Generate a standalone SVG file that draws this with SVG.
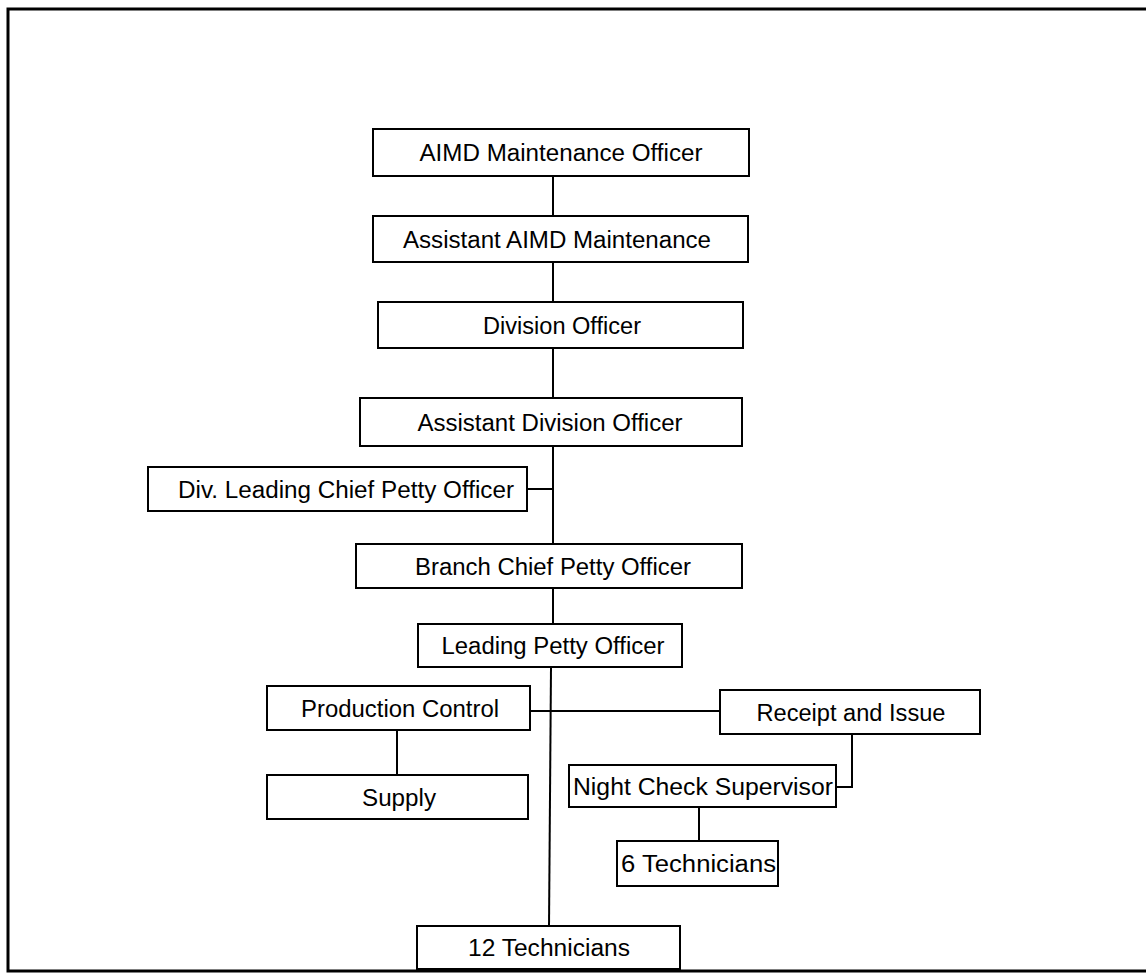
<svg xmlns="http://www.w3.org/2000/svg" width="1146" height="974" viewBox="0 0 1146 974">
<style>
.box{fill:#fff;stroke:#000;stroke-width:2}
.lbl{font-family:"Liberation Sans",Arial,sans-serif;font-size:23px;fill:#000}
.c{text-anchor:middle}
.conn line,.conn polyline{stroke:#000;stroke-width:2;fill:none}
</style>
<rect width="1146" height="974" fill="#fff"/>
<path d="M1150,9 H8 V971 H1150" fill="none" stroke="#000" stroke-width="3"/>
<g id="connectors" class="conn">
<line x1="553" y1="176" x2="553" y2="216"/>
<line x1="553" y1="262" x2="553" y2="302"/>
<line x1="553" y1="348" x2="553" y2="398"/>
<line x1="553" y1="446" x2="553" y2="544"/>
<line x1="527" y1="489" x2="553" y2="489"/>
<line x1="553" y1="588" x2="553" y2="624"/>
<line x1="551" y1="667" x2="549" y2="926"/>
<line x1="530" y1="711" x2="720" y2="711"/>
<line x1="397" y1="730" x2="397" y2="775"/>
<polyline points="852,734 852,787 836,787"/>
<line x1="699" y1="807" x2="699" y2="841"/>
</g>
<g id="n1"><rect class="box" x="373" y="129" width="376" height="47"/><text class="lbl c" x="561" y="160.5" textLength="283" lengthAdjust="spacingAndGlyphs">AIMD Maintenance Officer</text></g>
<g id="n2"><rect class="box" x="373" y="216" width="375" height="46"/><text class="lbl c" x="557" y="247.5" textLength="308" lengthAdjust="spacingAndGlyphs">Assistant AIMD Maintenance</text></g>
<g id="n3"><rect class="box" x="378" y="302" width="365" height="46"/><text class="lbl c" x="562" y="333.5" textLength="158" lengthAdjust="spacingAndGlyphs">Division Officer</text></g>
<g id="n4"><rect class="box" x="360" y="398" width="382" height="48"/><text class="lbl c" x="550" y="430.5" textLength="265" lengthAdjust="spacingAndGlyphs">Assistant Division Officer</text></g>
<g id="n5"><rect class="box" x="148" y="467" width="379" height="44"/><text class="lbl c" x="346" y="497.5" textLength="336" lengthAdjust="spacingAndGlyphs">Div. Leading Chief Petty Officer</text></g>
<g id="n6"><rect class="box" x="356" y="544" width="386" height="44"/><text class="lbl c" x="553" y="574.5" textLength="276" lengthAdjust="spacingAndGlyphs">Branch Chief Petty Officer</text></g>
<g id="n7"><rect class="box" x="418" y="624" width="264" height="43"/><text class="lbl c" x="553" y="654" textLength="223" lengthAdjust="spacingAndGlyphs">Leading Petty Officer</text></g>
<g id="n8"><rect class="box" x="267" y="686" width="263" height="44"/><text class="lbl c" x="400" y="716.5" textLength="198" lengthAdjust="spacingAndGlyphs">Production Control</text></g>
<g id="n9"><rect class="box" x="720" y="690" width="260" height="44"/><text class="lbl c" x="851" y="720.5" textLength="189" lengthAdjust="spacingAndGlyphs">Receipt and Issue</text></g>
<g id="n10"><rect class="box" x="267" y="775" width="261" height="44"/><text class="lbl c" x="399" y="805.5" textLength="74" lengthAdjust="spacingAndGlyphs">Supply</text></g>
<g id="n11"><rect class="box" x="569" y="765" width="267" height="42"/><text class="lbl" x="573" y="794.5" textLength="260" lengthAdjust="spacingAndGlyphs">Night Check Supervisor</text></g>
<g id="n12"><rect class="box" x="617" y="841" width="161" height="45"/><text class="lbl" x="621" y="871.5" textLength="155" lengthAdjust="spacingAndGlyphs">6 Technicians</text></g>
<g id="n13"><rect class="box" x="417" y="926" width="263" height="43"/><text class="lbl c" x="549" y="956" textLength="162" lengthAdjust="spacingAndGlyphs">12 Technicians</text></g>
</svg>
